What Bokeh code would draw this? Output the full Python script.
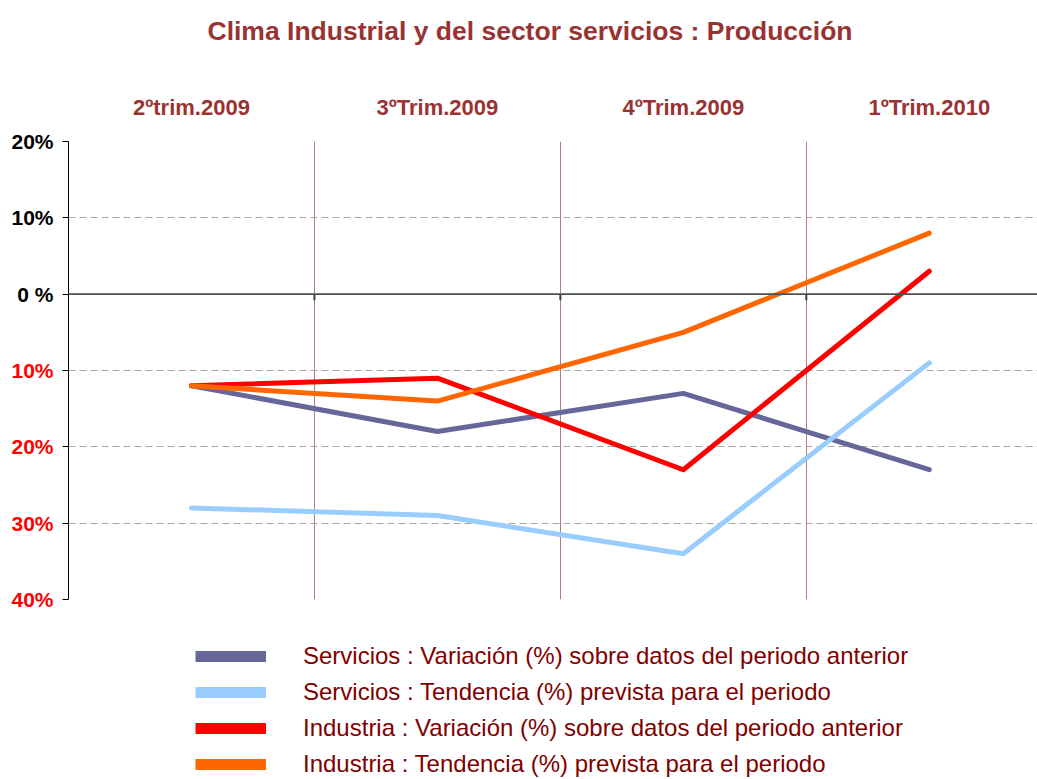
from bokeh.plotting import figure
from bokeh.layouts import column
from bokeh.models import Range1d, FixedTicker, Span, Legend, LegendItem, LinearAxis
from bokeh.embed import file_html
from bokeh.resources import INLINE

# ---- data ----
categories = ["2ºtrim.2009", "3ºTrim.2009", "4ºTrim.2009", "1ºTrim.2010"]
serv_variacion = [-12, -18, -13, -23]
serv_tendencia = [-28, -29, -34, -9]
ind_variacion = [-12, -11, -23, 3]
ind_tendencia = [-12, -14, -5, 8]
series_names = [
    "Servicios : Variación (%) sobre datos del periodo anterior",
    "Servicios : Tendencia (%) prevista para el periodo",
    "Industria : Variación (%) sobre datos del periodo anterior",
    "Industria : Tendencia (%) prevista para el periodo",
]
series_colors = ["#666699", "#99CCFF", "#FF0000", "#FF6600"]
y_ticks = [-40, -30, -20, -10, 0, 10, 20]
y_tick_labels = ["40%", "30%", "20%", "10%", "0 %", "10%", "20%"]
title_text = "Clima Industrial y del sector servicios : Producción"

FONT = "Liberation Sans"
series = [serv_variacion, serv_tendencia, ind_variacion, ind_tendencia]
xs = [i + 0.5 for i in range(len(categories))]
bounds = list(range(1, len(categories)))

p = figure(width=1037, height=641, output_backend="svg", toolbar_location=None,
           x_axis_location="above", x_range=Range1d(0, 3.94), y_range=Range1d(-40, 20),
           min_border_left=68, min_border_right=0, min_border_top=140, min_border_bottom=42,
           title=title_text)
p.outline_line_color = None
p.background_fill_color = "white"

# title
p.title.align = "left"
p.title.offset = 139
p.title.text_font = FONT
p.title.text_font_size = "26.5px"
p.title.text_font_style = "bold"
p.title.text_color = "#993333"
p.title.standoff = 26

# top category axis (its empty axis label only keeps the title clear of it)
xa = p.xaxis[0]
xa.ticker = FixedTicker(ticks=xs)
xa.major_label_overrides = dict(zip(xs, categories))
xa.axis_line_color = None
xa.major_tick_line_color = None
xa.minor_tick_line_color = None
xa.major_tick_out = 0
xa.major_label_standoff = 22
xa.major_label_text_font = FONT
xa.major_label_text_font_size = "22px"
xa.major_label_text_font_style = "bold"
xa.major_label_text_color = "#993333"
xa.axis_label = " "
xa.axis_label_text_font_size = "10px"
xa.axis_label_standoff = 19

# y axis: negative labels in red
ya = p.yaxis[0]
ya.ticker = FixedTicker(ticks=y_ticks)
ya.major_label_overrides = {t: (lab if t < 0 else "") for t, lab in zip(y_ticks, y_tick_labels)}
ya.axis_line_color = "black"
ya.major_tick_line_color = "black"
ya.major_tick_out = 6
ya.major_tick_in = 0
ya.minor_tick_line_color = None
ya.major_label_standoff = 9
ya.major_label_text_font = FONT
ya.major_label_text_font_size = "21px"
ya.major_label_text_font_style = "bold"
ya.major_label_text_color = "#FF0000"

# y axis: zero and positive labels in black, pulled back onto the same column
ya2 = LinearAxis(ticker=FixedTicker(ticks=[t for t in y_ticks if t >= 0]),
                 major_label_overrides={t: lab for t, lab in zip(y_ticks, y_tick_labels) if t >= 0},
                 axis_line_color=None, major_tick_line_color=None, minor_tick_line_color=None,
                 major_tick_out=0, major_tick_in=0, major_label_standoff=-45,
                 major_label_text_font=FONT, major_label_text_font_size="21px",
                 major_label_text_font_style="bold", major_label_text_color="black")
p.add_layout(ya2, "left")

# grids
p.ygrid.ticker = FixedTicker(ticks=y_ticks)
p.ygrid.grid_line_color = "#A6A6A6"
p.ygrid.grid_line_dash = "7 4"
p.ygrid.grid_line_width = 1
p.xgrid.ticker = FixedTicker(ticks=bounds)
p.xgrid.grid_line_color = "#B07C7C"
p.xgrid.grid_line_width = 1

# zero line with small ticks
p.add_layout(Span(location=0, dimension="width", line_color="#505050", line_width=1.6))
p.segment(x0=bounds, y0=[0] * len(bounds), x1=bounds, y1=[-0.8] * len(bounds),
          line_color="#404040", line_width=2)

# series lines
for vals, col in zip(series, series_colors):
    p.line(xs, vals, line_width=5, line_color=col, line_cap="round", line_join="round")

# legend panel below the chart (its own lines lie outside its visible range)
lg = figure(width=1037, height=138, output_backend="svg", toolbar_location=None,
            x_axis_type=None, y_axis_type=None, x_range=Range1d(0, 1),
            y_range=Range1d(100, 101), min_border=0)
lg.outline_line_color = None
lg.grid.visible = False
items = []
for name, vals, col in zip(series_names, series, series_colors):
    r = lg.line(xs, vals, line_width=11, line_color=col, line_cap="butt")
    items.append(LegendItem(label=name, renderers=[r]))
legend = Legend(items=items, location=(127, 1), orientation="vertical",
                label_text_font=FONT, label_text_font_size="24px", label_text_color="#800000",
                glyph_width=71, glyph_height=24, label_height=24, label_standoff=37,
                spacing=8, padding=0, margin=0, border_line_color=None,
                background_fill_alpha=0)
lg.add_layout(legend)

page = column(p, lg, spacing=0)
open("out.html", "w").write(file_html(page, INLINE))
